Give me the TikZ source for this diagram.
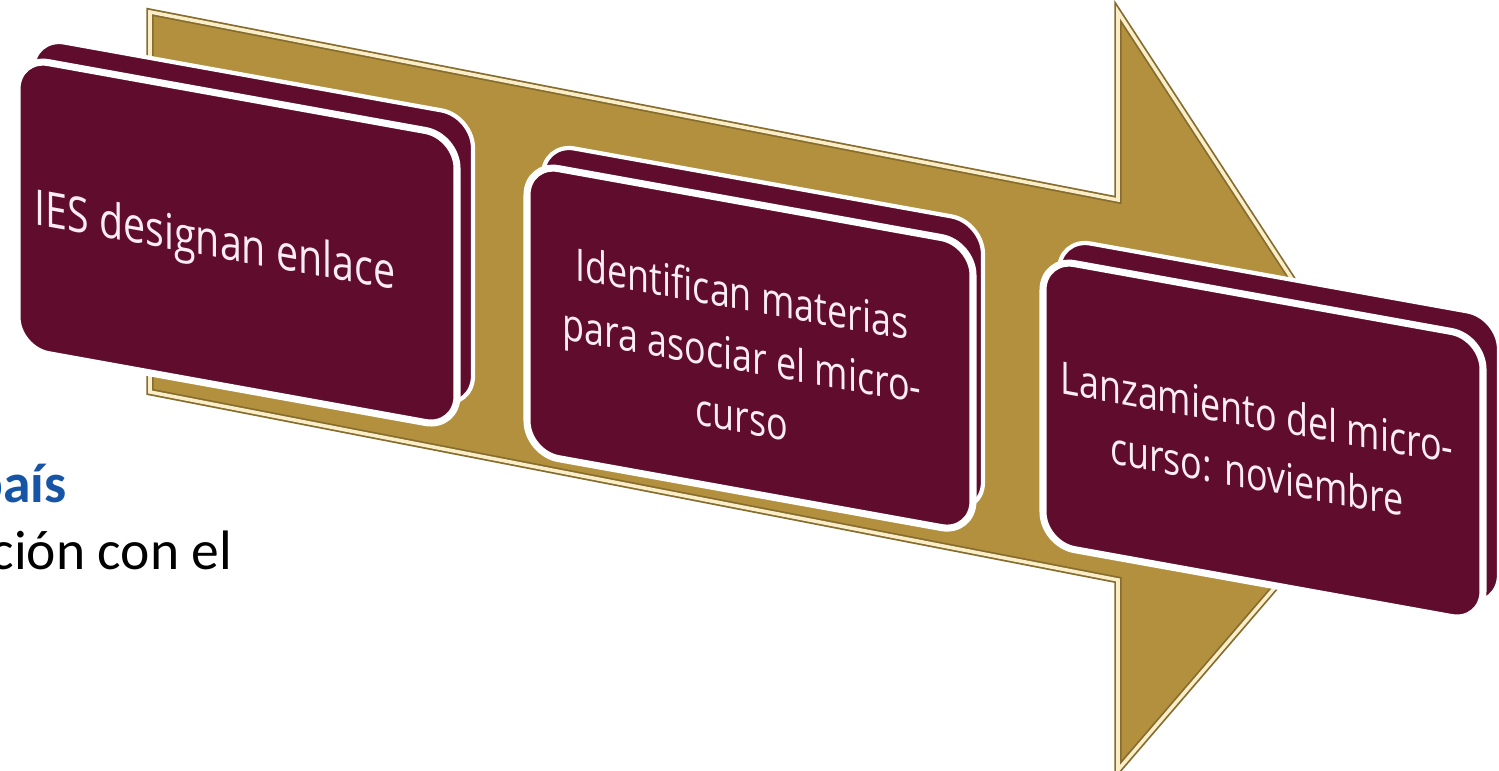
\documentclass[tikz,border=0pt]{standalone}
\usepackage{fontspec}
\setmainfont{Open Sans}
\newfontfamily\slidefont{Carlito}
\usepackage{tikz}

\definecolor{arrowgold}{RGB}{179,144,61}
\definecolor{arrowcream}{RGB}{250,238,200}
\definecolor{slabred}{RGB}{96,12,45}
\definecolor{slabtext}{RGB}{252,236,243}
\definecolor{titleblue}{RGB}{22,84,166}

\tikzset{
  slabback/.style={fill=slabred,draw=white,line width=1.2pt,rounded corners=0.32cm},
  slabfront/.style={fill=slabred,draw=white,line width=2pt,rounded corners=0.32cm},
  slablabel/.style={transform shape,yscale=1.25,align=center,text=slabtext,
    font=\fontsize{10.2}{14}\selectfont},
  slidetext/.style={anchor=base east,inner sep=0pt,font=\slidefont\fontsize{15.8}{19}\selectfont},
}

\begin{document}
\begin{tikzpicture}[x=0.01cm,y=0.01cm]

\clip (0,0) rectangle (1499,771);
\fill[white] (0,0) rectangle (1499,771);

\node[slidetext,text=titleblue,font=\slidefont\bfseries\fontsize{15.8}{19}\selectfont] (pais) at (67,268) {país};
\node[slidetext] (relacion) at (233,201) {ción con el};

% flecha
\draw[fill=arrowgold,draw=arrowgold!75!black,double=arrowcream,double distance=1pt,line width=0.5pt]
  (150,759) -- (1118,571) -- (1118,759) -- (1399,328) -- (1118,1) -- (1118,191) -- (150,379) -- cycle;

\begin{scope}[shift={(17,714)},yslant=-0.18]
\draw[slabback] (16,23) -- (456,23) -- (456,-269) -- (16,-269) -- cycle;
\draw[slabfront] (0,0) -- (440,0) -- (440,-292) -- (0,-292) -- cycle;
\node[slablabel,font=\fontsize{11.2}{15}\selectfont] (enlace) at (198,-152) {IES designan enlace};
\end{scope}

\begin{scope}[shift={(527,608)},yslant=-0.18]
\draw[slabback] (16,23) -- (456,23) -- (456,-269) -- (16,-269) -- cycle;
\draw[slabfront] (0,0) -- (446,0) -- (446,-290) -- (0,-290) -- cycle;
\node[slablabel] (materias) at (215,-153) {Identifican materias\\para asociar el micro-\\curso};
\end{scope}

\begin{scope}[shift={(1043,513)},yslant=-0.18]
\draw[slabback] (16,23) -- (456,23) -- (456,-267) -- (16,-267) -- cycle;
\draw[slabfront] (0,0) -- (440,0) -- (440,-286) -- (0,-286) -- cycle;
\node[slablabel] (lanzamiento) at (214,-146) {Lanzamiento del micro-\\curso: noviembre};
\end{scope}

\end{tikzpicture}
\end{document}
